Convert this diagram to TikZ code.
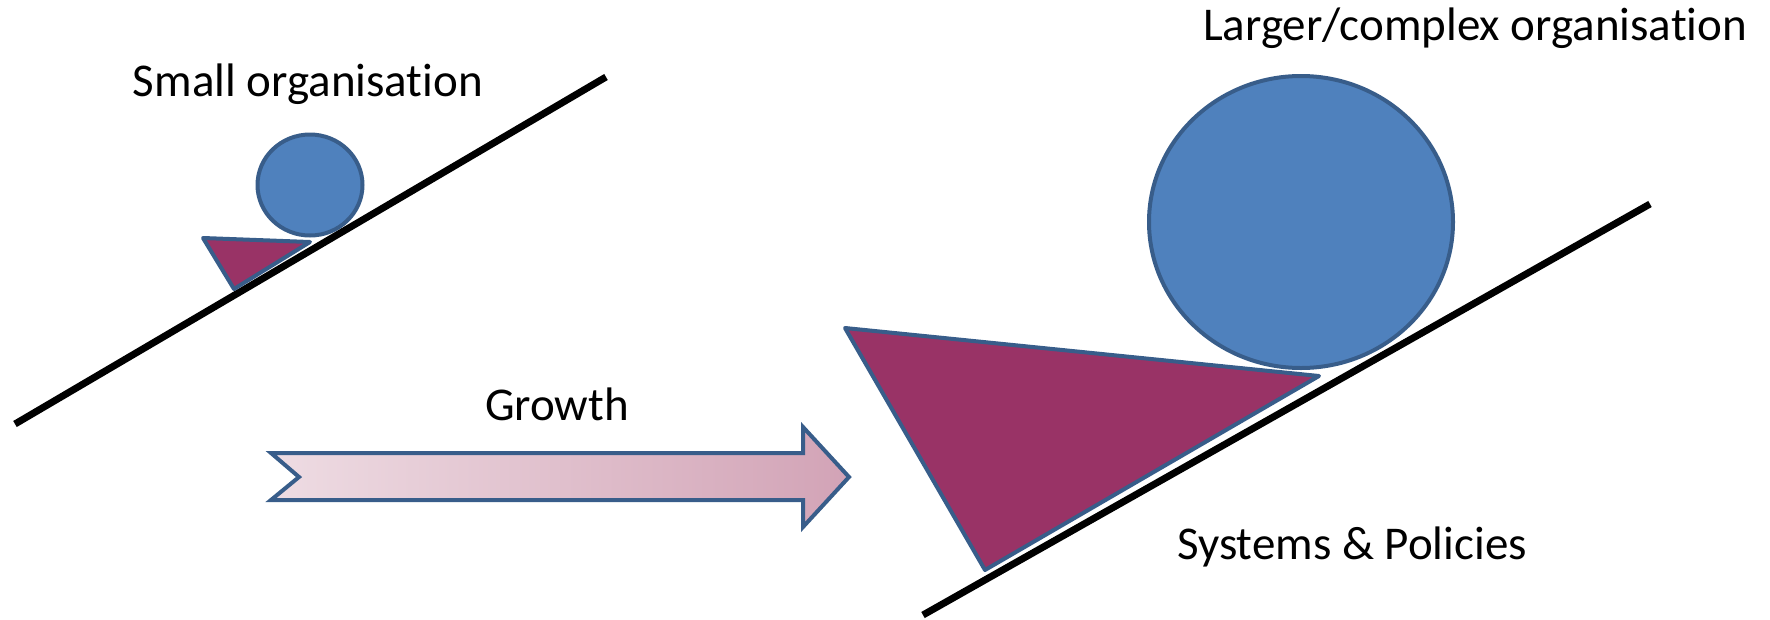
\documentclass[tikz,border=0pt]{standalone}
\usepackage{fontspec}
\setmainfont[Ligatures={NoCommon,NoContextual},RawFeature={-liga;-clig;-dlig}]{Carlito}
\usetikzlibrary{shapes.geometric}
\definecolor{orgblue}{HTML}{4F81BD}
\definecolor{edgeblue}{HTML}{385D8A}
\definecolor{plum}{HTML}{993366}
\definecolor{pinkL}{HTML}{EEDCE3}
\definecolor{pinkR}{HTML}{D2A3B6}
\begin{document}
\begin{tikzpicture}[x=1pt,y=-1pt,
  slope/.style={line width=7pt},
  ball/.style={ellipse, fill=orgblue, draw=edgeblue, line width=4pt, inner sep=0pt},
  wedge/.style={fill=plum, draw=edgeblue, line width=4pt, line join=round},
  growarrow/.style={left color=pinkL, right color=pinkR, draw=edgeblue, line width=4pt, line join=miter},
  caption/.style={font=\fontsize{47}{56}\selectfont, inner sep=0pt}]
\useasboundingbox (0,0) rectangle (1770,619);
% slopes
\coordinate (s1) at (15,424);
\coordinate (s2) at (606,77);
\coordinate (b1) at (923,615);
\coordinate (b2) at (1650,204);
\draw[slope] (s1) -- (s2);
\draw[slope] (b1) -- (b2);
% small organisation
\coordinate (st1) at (203,238);
\coordinate (st2) at (310,242);
\coordinate (st3) at (234,289);
\draw[wedge] (st1) -- (st2) -- (st3) -- cycle;
\node[ball, minimum width=105pt, minimum height=101pt] (smallball) at (310,185) {};
% large organisation
\coordinate (bt1) at (845,328);
\coordinate (bt2) at (1319,376);
\coordinate (bt3) at (985,570);
\draw[wedge] (bt1) -- (bt2) -- (bt3) -- cycle;
\node[ball, minimum width=304pt, minimum height=292pt] (bigball) at (1301,222) {};
% growth arrow
\coordinate (a1) at (271,453);
\coordinate (a2) at (803,453);
\coordinate (a3) at (803,427);
\coordinate (a4) at (849,477);
\coordinate (a5) at (803,527);
\coordinate (a6) at (803,500);
\coordinate (a7) at (271,500);
\coordinate (a8) at (299,477);
\draw[growarrow] (a1) -- (a2) -- (a3) -- (a4) -- (a5) -- (a6) -- (a7) -- (a8) -- cycle;
% texts
\node[caption] (small) at (308,84) {Small organisation};
\node[caption] (growth) at (557,404) {Growth};
\node[caption] (large) at (1475,28) {Larger/complex organisation};
\node[caption] (systems) at (1352,547) {Systems \& Policies};
\end{tikzpicture}
\end{document}
